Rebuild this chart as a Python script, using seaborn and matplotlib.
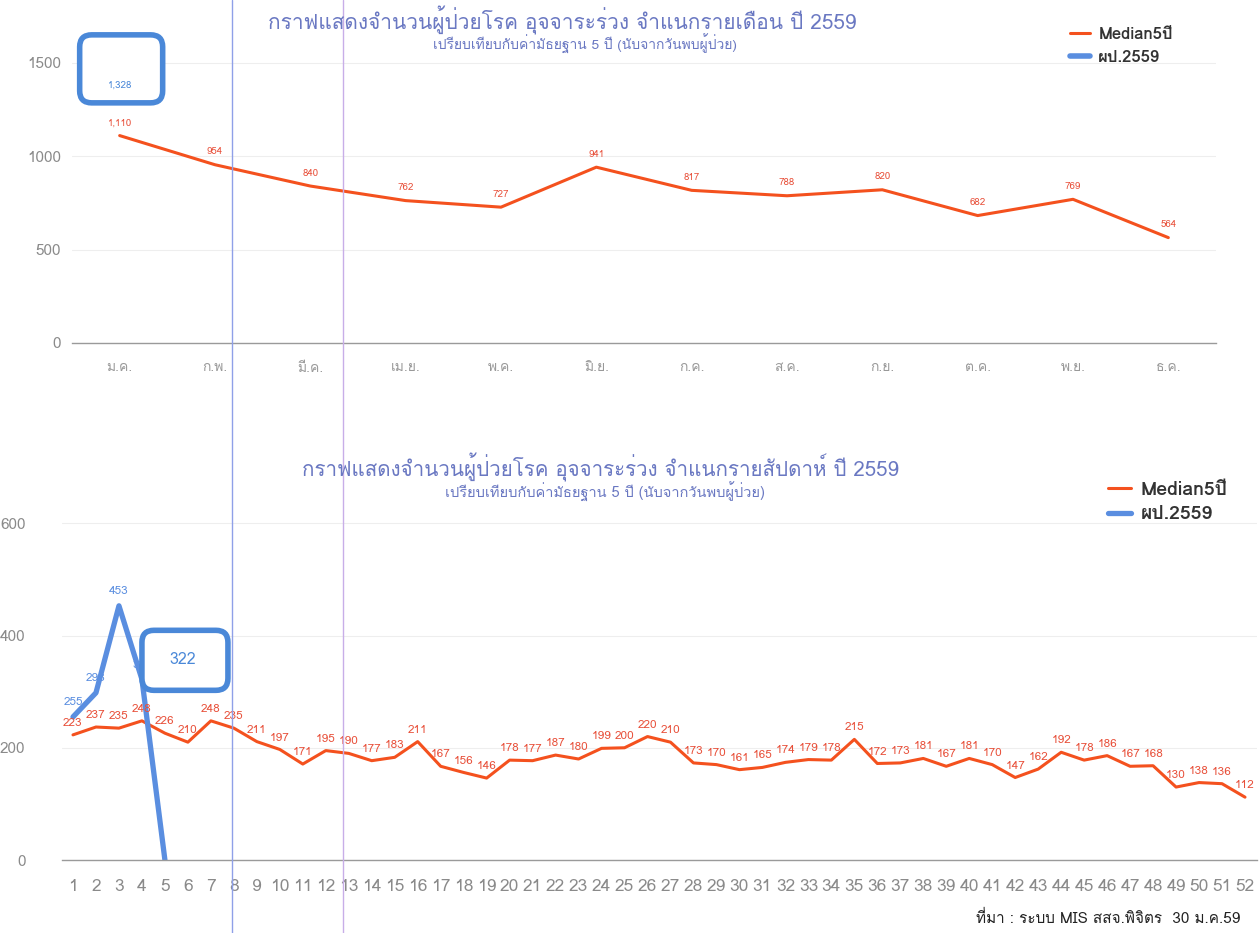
import matplotlib
matplotlib.use("Agg")
import matplotlib.pyplot as plt
import seaborn as sns
import pandas as pd
from matplotlib import font_manager
from matplotlib.ft2font import FT2Font
from matplotlib.patches import FancyBboxPatch
from matplotlib.lines import Line2D
from matplotlib.transforms import ScaledTranslation

# ---------------- data ----------------
months = ["ม.ค.", "ก.พ.", "มี.ค.", "เม.ย.", "พ.ค.", "มิ.ย.", "ก.ค.", "ส.ค.", "ก.ย.", "ต.ค.", "พ.ย.", "ธ.ค."]
month_median = [1110, 954, 840, 762, 727, 941, 817, 788, 820, 682, 769, 564]
month_2559 = [1328]

weeks = list(range(1, 53))
week_median = [223, 237, 235, 248, 226, 210, 248, 235, 211, 197, 171, 195, 190, 177, 183, 211,
               167, 156, 146, 178, 177, 187, 180, 199, 200, 220, 210, 173, 170, 161, 165, 174,
               179, 178, 215, 172, 173, 181, 167, 181, 170, 147, 162, 192, 178, 186, 167, 168,
               130, 138, 136, 112]
week_2559 = [255, 298, 453, 322, 0]

series_names = ["Median5ปี", "ผป.2559"]
title_top = "กราฟแสดงจำนวนผู้ป่วยโรค อุจจาระร่วง จำแนกรายเดือน ปี 2559"
title_bot = "กราฟแสดงจำนวนผู้ป่วยโรค อุจจาระร่วง จำแนกรายสัปดาห์ ปี 2559"
subtitle = "เปรียบเทียบกับค่ามัธยฐาน 5 ปี (นับจากวันพบผู้ป่วย)"
source = "ที่มา : ระบบ MIS สสจ.พิจิตร  30 ม.ค.59"

ORANGE = "#f4511e"
LABEL_RED = "#e8503a"
BLUE = "#5a8ee0"
BOX_BLUE = "#4a88d8"
TITLE_C = "#6a78c2"
GRAY = "#8a8a8a"


def find_thai_family():
    for f in font_manager.fontManager.ttflist:
        try:
            cm = FT2Font(f.fname).get_charmap()
            if 0x0E01 in cm and 0x0E35 in cm:
                return f.name
        except Exception:
            pass
    return None


sns.set_theme(style="white")
thai = find_thai_family()
fams = ([thai] if thai else []) + ["DejaVu Sans"]
plt.rcParams["font.family"] = fams

fig = plt.figure(figsize=(12.59, 9.33), dpi=100)
W, H = 1259, 933


def px_axes(l, t, r, b):
    return fig.add_axes([l / W, 1 - b / H, (r - l) / W, (b - t) / H])


ax1 = px_axes(72, 16, 1216, 343)
ax2 = px_axes(61.5, 456, 1256.5, 860)

# ---------------- top chart ----------------
df_m = pd.DataFrame({"x": range(len(months)), "v": month_median})
sns.lineplot(data=df_m, x="x", y="v", ax=ax1, color=ORANGE, linewidth=2.2, label=series_names[0])
df_m2 = pd.DataFrame({"x": range(len(month_2559)), "v": month_2559})
sns.lineplot(data=df_m2, x="x", y="v", ax=ax1, color=BLUE, linewidth=4, label=series_names[1])
ax1.set_xlim(-0.5, len(months) - 0.5)
ax1.set_ylim(0, 1750)
ax1.set_yticks([0, 500, 1000, 1500])
ax1.set_xticks(range(len(months)))
ax1.set_xticklabels(months)
for i, v in enumerate(month_median):
    ax1.annotate(f"{v:,}", (i, v), xytext=(0, 6), textcoords="offset points",
                 ha="center", va="bottom", fontsize=7, color=LABEL_RED)

# ---------------- bottom chart ----------------
df_w = pd.DataFrame({"x": weeks, "v": week_median})
sns.lineplot(data=df_w, x="x", y="v", ax=ax2, color=ORANGE, linewidth=2.2, label=series_names[0])
df_w2 = pd.DataFrame({"x": weeks[:len(week_2559)], "v": week_2559})
sns.lineplot(data=df_w2, x="x", y="v", ax=ax2, color=BLUE, linewidth=3.8, label=series_names[1])
ax2.set_xlim(0.5, 52.5)
ax2.set_ylim(0, 720)
ax2.set_yticks([0, 200, 400, 600])
ax2.set_xticks(weeks)
ax2.set_xticklabels([str(w) for w in weeks])
for w, v in zip(weeks, week_median):
    ax2.annotate(f"{v}", (w, v), xytext=(0, 5), textcoords="offset points",
                 ha="center", va="bottom", fontsize=8.5, color=LABEL_RED)
for w, v in zip(weeks, week_2559):
    if v > 0:
        ax2.annotate(f"{v}", (w, v), xytext=(0, 7), textcoords="offset points",
                     ha="center", va="bottom", fontsize=8.5, color=BLUE)

# ---------------- styling ----------------
for ax, pad in ((ax1, 8), (ax2, 26)):
    for s in ("top", "right", "left"):
        ax.spines[s].set_visible(False)
    ax.spines["bottom"].set_color("#9a9a9a")
    ax.spines["bottom"].set_linewidth(1.0)
    ax.grid(axis="y", color="#eeeeee", linewidth=0.8)
    ax.set_xlabel("")
    ax.set_ylabel("")
    ax.tick_params(axis="y", colors=GRAY, labelsize=11, pad=pad, length=0)
    ax.tick_params(axis="x", colors=GRAY, pad=14, length=0)
ax1.tick_params(axis="x", labelsize=10, colors="#999999")
ax2.tick_params(axis="x", labelsize=12.5)

# titles
fig.text(562 / W, 1 - 20 / H, title_top, ha="center", va="center", fontsize=15, color=TITLE_C)
fig.text(585 / W, 1 - 44 / H, subtitle, ha="center", va="center", fontsize=10, color=TITLE_C)
fig.text(600 / W, 1 - 467 / H, title_bot, ha="center", va="center", fontsize=14.8, color=TITLE_C)
fig.text(605 / W, 1 - 492 / H, subtitle, ha="center", va="center", fontsize=10.5, color=TITLE_C)

# legends
leg1 = ax1.legend(loc="upper left", bbox_to_anchor=(1055 / W, 1 - 12 / H), bbox_transform=fig.transFigure,
                  frameon=False, fontsize=12, handlelength=1.2, handletextpad=0.5, labelspacing=0.45)
leg2 = ax2.legend(loc="upper left", bbox_to_anchor=(1090 / W, 1 - 463 / H), bbox_transform=fig.transFigure,
                  frameon=False, fontsize=14, handlelength=1.2, handletextpad=0.5, labelspacing=0.35)
for leg in (leg1, leg2):
    for t in leg.get_texts():
        t.set_color("#333333")
        t.set_fontweight("bold")

# highlight boxes (offsets in inches from the data point)
def highlight(ax, x, y, l, b, w, h, text, tx, ty, fs):
    tr = fig.dpi_scale_trans + ScaledTranslation(x, y, ax.transData)
    box = FancyBboxPatch((l, b), w, h, boxstyle="round,pad=0,rounding_size=0.12",
                         transform=tr, fc="white", ec=BOX_BLUE, lw=4, zorder=5, clip_on=False)
    ax.add_patch(box)
    ax.text(tx, ty, text, transform=tr, ha="center", va="center", fontsize=fs,
            color=BOX_BLUE, zorder=6, clip_on=False)

highlight(ax1, 0, month_2559[0], -0.40, -0.08, 0.83, 0.68, f"{month_2559[0]:,}", 0.0, 0.10, 7)
highlight(ax2, 4, week_2559[3], 0.0, -0.11, 0.86, 0.60, f"{week_2559[3]}", 0.41, 0.19, 11.5)

# screen guide lines (artifacts in the reference)
fig.add_artist(Line2D([232 / W, 232 / W], [0, 1], color="#8fa0e8", lw=1, transform=fig.transFigure))
fig.add_artist(Line2D([343 / W, 343 / W], [0, 1], color="#c8aee8", lw=1, transform=fig.transFigure))

# source
fig.text(1240 / W, 1 - 918 / H, source, ha="right", va="center", fontsize=11, color="#222222")

fig.savefig("out.png", dpi=100)
